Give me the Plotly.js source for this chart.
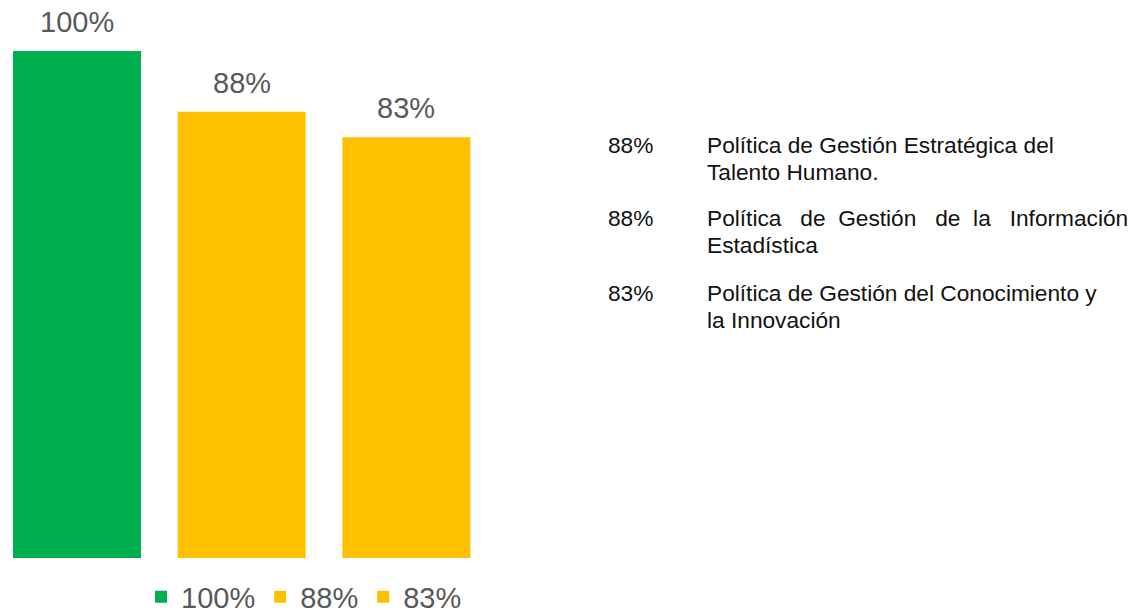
<!DOCTYPE html>
<html>
<head>
<meta charset="utf-8">
<script src="https://cdn.plot.ly/plotly-3.0.1.min.js"></script>
<style>html,body{margin:0;padding:0;background:#fff;}#chart{width:1134px;height:613px;}</style>
</head>
<body>
<div id="chart"></div>
<script>
// ---- data ----
const categories = ["Bar 100%", "Bar 88%", "Bar 83%"];
const values = [100, 88, 83];
const barLabels = ["100%", "88%", "83%"];
const barColors = ["#00B050", "#FFC000", "#FFC000"];

const listPercents = ["88%", "88%", "83%"];
const listLine1 = [
  "Política de Gestión Estratégica del",
  "Política\u00A0\u00A0\u00A0de\u00A0\u00A0Gestión\u00A0\u00A0\u00A0de\u00A0\u00A0la\u00A0\u00A0\u00A0Información",
  "Política de Gestión del Conocimiento y"
];
const listLine2 = ["Talento Humano.", "Estadística", "la Innovación"];

// ---- layout helpers ----
const W = 1134, H = 613;
const mT = 10, mB = 0;
const baseY = 558;            // pixel row of the bars' base
const pxPerUnit = 5.07;
const plotH = H - mT - mB;
const plotRight = 500;
const font = "Liberation Sans, Arial, sans-serif";
function py(y) { return (H - mB - y) / plotH; }

const traces = categories.map((c, i) => ({
  type: "bar",
  x: [c],
  y: [values[i]],
  name: barLabels[i],
  width: 0.777,
  marker: { color: barColors[i], line: { width: 0 } },
  hoverinfo: "skip"
}));

const annotations = [];
categories.forEach((c, i) => {
  annotations.push({
    x: c, y: values[i], xref: "x", yref: "y",
    text: barLabels[i], showarrow: false,
    yanchor: "middle", yshift: 29,
    font: { family: font, size: 29, color: "#595959" }
  });
});

const itemY = [145, 218, 293];
const lineGap = 27;
const listFont = { family: font, size: 22.7, color: "#111" };
listPercents.forEach((p, i) => {
  annotations.push({
    x: 606 / W, y: py(itemY[i]), xref: "paper", yref: "paper",
    xanchor: "left", yanchor: "middle", showarrow: false,
    text: p, font: listFont
  });
  annotations.push({
    x: 705 / W, y: py(itemY[i]), xref: "paper", yref: "paper",
    xanchor: "left", yanchor: "middle", showarrow: false,
    text: listLine1[i], font: listFont
  });
  annotations.push({
    x: 705 / W, y: py(itemY[i] + lineGap), xref: "paper", yref: "paper",
    xanchor: "left", yanchor: "middle", showarrow: false,
    text: listLine2[i], font: listFont
  });
});

const layout = {
  width: W, height: H,
  margin: { l: 0, r: 0, t: mT, b: mB, pad: 0, autoexpand: false },
  paper_bgcolor: "#fff", plot_bgcolor: "#fff",
  barmode: "overlay",
  showlegend: true,
  legend: {
    orientation: "h", xref: "container", yref: "container",
    x: 304 / W, xanchor: "center",
    y: (H - 597) / H, yanchor: "middle",
    font: { family: font, size: 29, color: "#595959" },
    bgcolor: "rgba(0,0,0,0)",
    itemclick: false, itemdoubleclick: false
  },
  xaxis: {
    type: "category",
    domain: [0, plotRight / W],
    range: [-77 / 164.7, -77 / 164.7 + plotRight / 164.7],
    showticklabels: false, showgrid: false, zeroline: false, showline: false, ticks: ""
  },
  yaxis: {
    range: [-(H - mB - baseY) / pxPerUnit, (baseY - mT) / pxPerUnit],
    showticklabels: false, showgrid: false, zeroline: false, showline: false, ticks: ""
  },
  annotations: annotations
};

Plotly.newPlot("chart", traces, layout, { staticPlot: true, displayModeBar: false });
</script>
</body>
</html>
